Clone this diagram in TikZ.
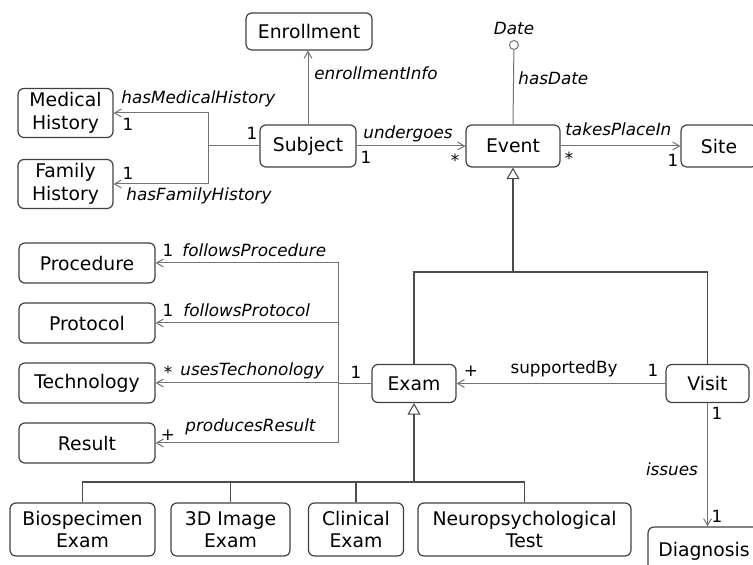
\documentclass[tikz,border=0pt]{standalone}
\usepackage{fontspec}
\setmainfont{DejaVu Sans}
\usetikzlibrary{arrows}

\begin{document}
\begin{tikzpicture}[x=0.5pt,y=-0.5pt,>=angle 60]
\tikzset{cls/.style={draw=black!75,rounded corners=3pt,align=center,inner sep=1pt,line width=0.6pt,font=\fontsize{9.4}{11.2}\selectfont}}
\tikzset{rel/.style={draw=black!55,line width=0.5pt}}
\tikzset{gen/.style={draw=black!70,line width=0.55pt}}
\tikzset{lab/.style={inner sep=1pt,font=\fontsize{8.4}{10}\selectfont\itshape}}
\tikzset{mult/.style={inner sep=1pt,font=\fontsize{8.4}{10}\selectfont}}

\useasboundingbox (0,0) rectangle (753,565);

% classes
\node[cls,minimum width=63pt,minimum height=18.5pt] (enroll) at (309,31.5) {Enrollment};
\node[cls,minimum width=47.5pt,minimum height=24.5pt] (medhist) at (65.5,113) {Medical\\History};
\node[cls,minimum width=47.5pt,minimum height=24.5pt] (famhist) at (65.5,184) {Family\\History};
\node[cls,minimum width=48pt,minimum height=21pt] (subject) at (308,146) {Subject};
\node[cls,minimum width=47pt,minimum height=21pt] (event) at (513,146) {Event};
\node[cls,minimum width=38pt,minimum height=21pt] (site) at (719,146) {Site};
\node[lab] (date) at (514,29) {Date};
\coordinate (dateend) at (514,40);

\node[cls,minimum width=68pt,minimum height=20pt] (proc) at (87,263) {Procedure};
\node[cls,minimum width=68pt,minimum height=20pt] (proto) at (87,323) {Protocol};
\node[cls,minimum width=68pt,minimum height=20pt] (tech) at (87,383) {Technology};
\node[cls,minimum width=68pt,minimum height=20pt] (result) at (87,443) {Result};

\node[cls,minimum width=42pt,minimum height=19pt] (exam) at (414,383.5) {Exam};
\node[cls,minimum width=41.5pt,minimum height=19pt] (visit) at (707.5,383.5) {Visit};
\node[cls,minimum width=56pt,minimum height=24pt] (diag) at (704,551) {Diagnosis};

\node[cls,minimum width=72.5pt,minimum height=26.5pt] (bio) at (82.5,529.5) {Biospecimen\\Exam};
\node[cls,minimum width=59.5pt,minimum height=26.5pt] (img) at (230.5,529.5) {3D Image\\Exam};
\node[cls,minimum width=47.5pt,minimum height=26.5pt] (clin) at (356,529.5) {Clinical\\Exam};
\node[cls,minimum width=106.5pt,minimum height=26.5pt] (neuro) at (524.5,529.5) {Neuropsychological\\Test};

% associations
\draw[rel,->] (subject.north) -- (subject.north |- enroll.south);
\node[lab,anchor=west] (lenroll) at (312,73) {enrollmentInfo};

\coordinate (hbend) at (208,146);
\draw[rel] (subject.west) -- (hbend);
\draw[rel,->] (hbend) |- (medhist.east);
\draw[rel,->] (hbend) |- (famhist.east);
\node[lab,anchor=west] (lmed) at (119,99) {hasMedicalHistory};
\node[lab,anchor=west] (lfam) at (124,196) {hasFamilyHistory};
\node[mult] (mmed) at (128,124) {1};
\node[mult] (mfam) at (128,173) {1};
\node[mult] (msub) at (252,133) {1};

\draw[rel,->] (subject.east) -- (event.west);
\node[lab,anchor=west] (lund) at (361,134) {undergoes};
\node[mult] (mund1) at (366,157) {1};
\node[mult] (mund2) at (455,160) {*};

\draw[rel,->] (event.east) -- (site.west);
\node[lab,anchor=west] (lsite) at (563,129) {takesPlaceIn};
\node[mult] (msite1) at (569,158) {*};
\node[mult] (msite2) at (673,160) {1};

\draw[rel,o-] (dateend) -- (event.north);
\node[lab,anchor=west] (ldate) at (516,78) {hasDate};

% generalization of event
\coordinate (evbar) at (513,272);
\draw[gen,-open triangle 60] (evbar) -- (event.south);
\draw[gen] (exam.north) -- (exam.north |- evbar) -- (visit.north |- evbar) -- (visit.north);

% exam relations
\coordinate (trunk) at (338,383.5);
\draw[rel] (exam.west) -- (trunk);
\draw[rel,->] (trunk) |- (proc.east);
\draw[rel,->] (trunk) |- (proto.east);
\draw[rel,->] (trunk) |- (tech.east);
\draw[rel,->] (trunk) |- (result.east);
\node[mult] (mproc) at (168,250) {1};
\node[lab,anchor=west] (lproc) at (180,250) {followsProcedure};
\node[mult] (mproto) at (168,310) {1};
\node[lab,anchor=west] (lproto) at (181,310) {followsProtocol};
\node[mult] (mtech) at (168,372) {*};
\node[lab,anchor=west] (ltech) at (178,371) {usesTechonology};
\node[mult] (mres) at (168,435) {+};
\node[lab,anchor=west] (lres) at (183,427) {producesResult};
\node[mult] (mexam) at (356,372) {1};

\draw[rel,->] (visit.west) -- (exam.east);
\node[mult] (lsup) at (564,369) {supportedBy};
\node[mult] (msup1) at (471,371) {+};
\node[mult] (msup2) at (653,370) {1};

\draw[rel,->] (visit.south) -- (visit.south |- diag.north);
\node[lab] (liss) at (672,469) {issues};
\node[mult] (miss1) at (717,413) {1};
\node[mult] (miss2) at (717,516) {1};

% generalization of exam
\coordinate (exbar) at (414,482);
\draw[gen,-open triangle 60] (exbar) -- (exam.south);
\draw[gen] (bio.north) -- (bio.north |- exbar) -- (neuro.north |- exbar) -- (neuro.north);
\draw[gen] (img.north) -- (img.north |- exbar);
\draw[gen] (clin.north) -- (clin.north |- exbar);

\end{tikzpicture}
\end{document}
